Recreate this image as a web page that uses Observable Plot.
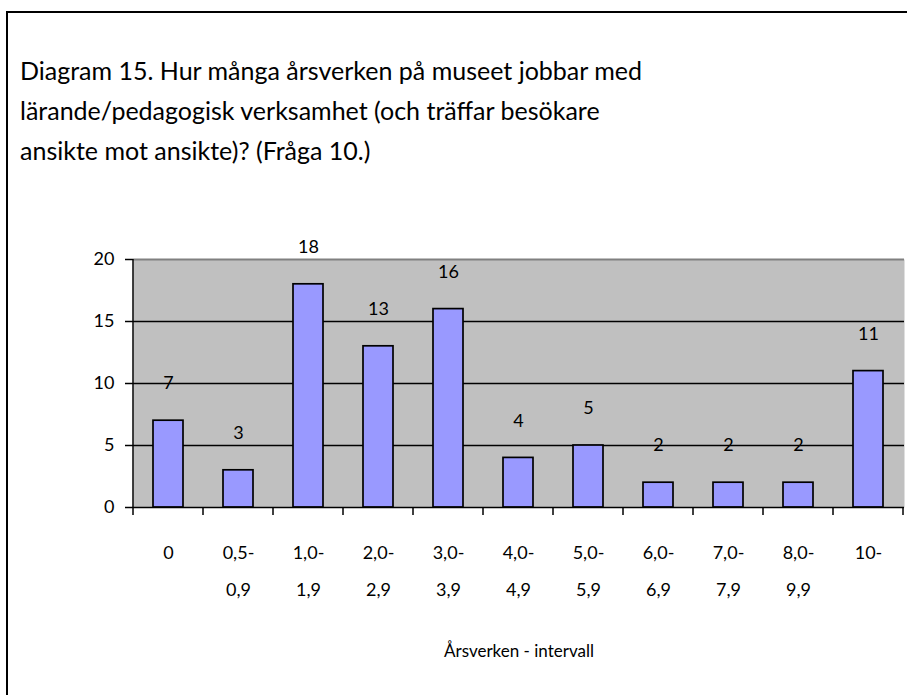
<!DOCTYPE html>
<html>
<head>
<meta charset="utf-8">
<script src="https://cdn.jsdelivr.net/npm/d3@7"></script>
<script src="https://cdn.jsdelivr.net/npm/@observablehq/plot@0.6"></script>
<style>
  html, body { margin: 0; padding: 0; background: #fff; overflow: hidden; width: 907px; height: 695px; }
  #frame { position: absolute; left: 6px; top: 11px; width: 1000px; height: 800px; border: 2px solid #000; box-sizing: border-box; }
  #title { position: absolute; left: 20px; top: 0; font-family: Lato, sans-serif; font-size: 25px; color: #000; }
  #title div { position: absolute; left: 0; white-space: nowrap; line-height: 1; }
  #chart { position: absolute; left: 0; top: 0; }
</style>
</head>
<body>
<div id="frame"></div>
<div id="title"></div>
<div id="chart"></div>
<script>
const titleLines = [
  "Diagram 15. Hur många årsverken på museet jobbar med",
  "lärande/pedagogisk verksamhet (och träffar besökare",
  "ansikte mot ansikte)? (Fråga 10.)"
];
const categories = ["0", "0,5-\n0,9", "1,0-\n1,9", "2,0-\n2,9", "3,0-\n3,9", "4,0-\n4,9", "5,0-\n5,9", "6,0-\n6,9", "7,0-\n7,9", "8,0-\n9,9", "10-"];
const values = [7, 3, 18, 13, 16, 4, 5, 2, 2, 2, 11];
const yTicks = [0, 5, 10, 15, 20];
const gridTicks = [5, 10, 15];
const xTitle = "Årsverken - intervall";

const baselines = [78, 118, 158];
const tEl = document.getElementById("title");
titleLines.forEach((t, i) => {
  const d = document.createElement("div");
  d.textContent = t;
  d.style.top = (baselines[i] - 20) + "px";
  tEl.appendChild(d);
});

const data = categories.map((c, i) => ({cat: c, value: values[i]}));
const font = "Lato, sans-serif";

const chart = Plot.plot({
  width: 907,
  height: 695,
  marginLeft: 133,
  marginRight: 3,
  marginTop: 259,
  marginBottom: 188,
  style: {fontFamily: font, fontSize: "18px", background: "transparent", overflow: "visible"},
  x: {domain: categories, paddingInner: 0.565, paddingOuter: 0.2825, align: 0.5, axis: null},
  y: {domain: [0, 20], axis: null},
  marks: [
    Plot.frame({fill: "#C0C0C0", stroke: null}),
    Plot.ruleY(gridTicks, {stroke: "#000", strokeWidth: 1.5}),
    Plot.ruleY([20], {stroke: "#808080", strokeWidth: 2}),
    Plot.barY(data, {x: "cat", y: "value", fill: "#9999FF", stroke: "#000", strokeWidth: 1.7}),
    Plot.ruleY([0], {stroke: "#000", strokeWidth: 1.5}),
    Plot.axisY({ticks: yTicks, tickSize: 8, tickPadding: 11, stroke: "#000", strokeWidth: 1.5, fontSize: 18, label: null, tickFormat: d => String(d)}),
    Plot.text(data, {x: "cat", y: "value", text: d => String(d.value), dy: -37, fontSize: 18, fill: "#000", lineAnchor: "middle"}),
    Plot.text(data, {x: "cat", text: "cat", frameAnchor: "bottom", dy: 25, lineAnchor: "top", lineHeight: 2.06, fontSize: 18, fill: "#000"}),
    Plot.text([xTitle], {frameAnchor: "bottom", dy: 144, lineAnchor: "middle", fontSize: 17, fill: "#000", text: d => d})
  ]
});
document.getElementById("chart").appendChild(chart);

// left axis line and category-boundary ticks below the axis, positioned from the band scale
const xs = chart.scale("x");
const step = xs.step;
const bounds = categories.map(c => xs.apply(c) - (step - xs.bandwidth) / 2);
bounds.push(bounds[bounds.length - 1] + step);
const svg = d3.select(chart);
svg.append("line").attr("x1", 133).attr("x2", 133).attr("y1", 259).attr("y2", 507)
  .attr("stroke", "#000").attr("stroke-width", 1.5);
svg.append("g").selectAll("line").data(bounds).join("line")
  .attr("x1", d => d).attr("x2", d => d)
  .attr("y1", 507).attr("y2", 515)
  .attr("stroke", "#000").attr("stroke-width", 1.5);
</script>
</body>
</html>
